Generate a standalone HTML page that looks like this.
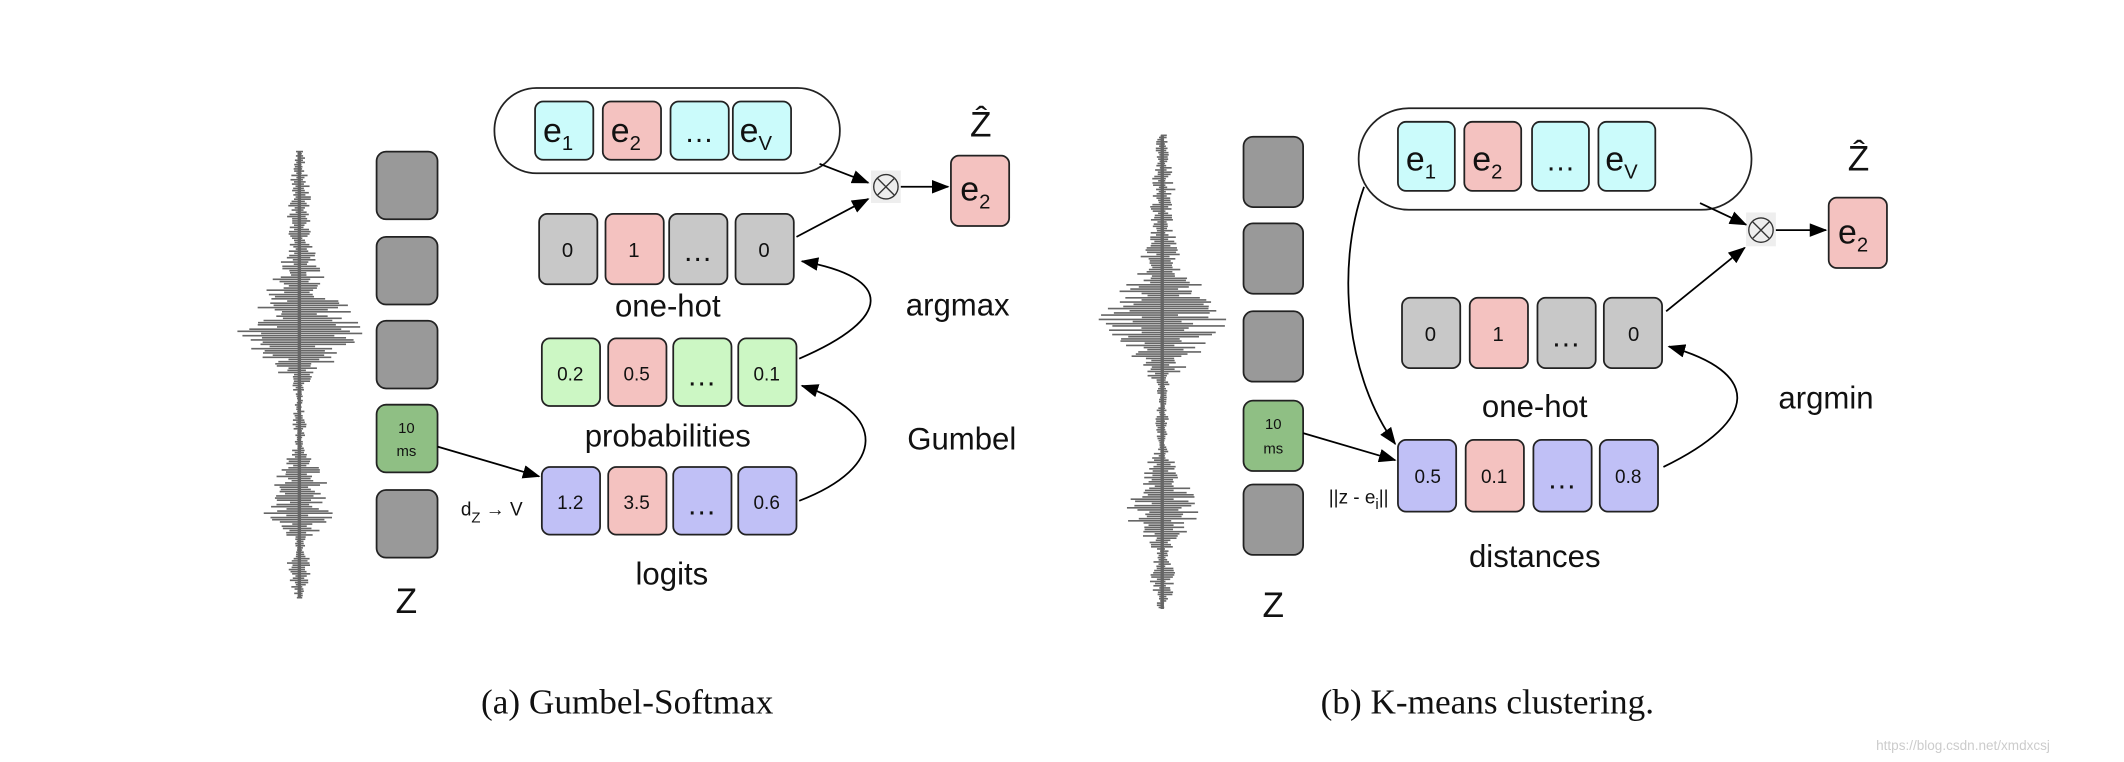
<!DOCTYPE html>
<html><head><meta charset="utf-8"><style>
html,body{margin:0;padding:0;background:#fff;}
svg{display:block;}
text{font-family:"Liberation Sans",sans-serif;fill:#111;}
.serif{font-family:"Liberation Serif",serif;}
</style></head><body>
<svg id="s" width="2124" height="762" viewBox="0 0 1568 563" preserveAspectRatio="none" xmlns="http://www.w3.org/2000/svg">
<defs>
<marker id="ah" markerWidth="13" markerHeight="10" refX="12" refY="5" orient="auto" markerUnits="userSpaceOnUse"><path d="M0,0 L13,5 L0,10 z" fill="#000"/></marker>
</defs>
<g id="wave" stroke="#666" stroke-width="1.2"></g>
<g stroke="#222" stroke-width="1.3">
<rect x="278" y="112" width="45" height="50" rx="7" fill="#999"/>
<rect x="278" y="175" width="45" height="50" rx="7" fill="#999"/>
<rect x="278" y="237" width="45" height="50" rx="7" fill="#999"/>
<rect x="278" y="299" width="45" height="50" rx="7" fill="#8fbf84"/>
<rect x="278" y="362" width="45" height="50" rx="7" fill="#999"/>
<rect x="365" y="65" width="255" height="63" rx="31" fill="#fff"/>
<rect x="395" y="75" width="43" height="43" rx="6" fill="#cbfbfb"/>
<rect x="445" y="75" width="43" height="43" rx="6" fill="#f4c2c0"/>
<rect x="495" y="75" width="43" height="43" rx="6" fill="#cbfbfb"/>
<rect x="541" y="75" width="43" height="43" rx="6" fill="#cbfbfb"/>
<rect x="702" y="115" width="43" height="52" rx="6" fill="#f4c2c0"/>
<rect x="398" y="158" width="43" height="52" rx="6" fill="#c8c8c8"/>
<rect x="447" y="158" width="43" height="52" rx="6" fill="#f4c2c0"/>
<rect x="494" y="158" width="43" height="52" rx="6" fill="#c8c8c8"/>
<rect x="543" y="158" width="43" height="52" rx="6" fill="#c8c8c8"/>
<rect x="400" y="250" width="43" height="50" rx="6" fill="#ccf7c4"/>
<rect x="449" y="250" width="43" height="50" rx="6" fill="#f4c2c0"/>
<rect x="497" y="250" width="43" height="50" rx="6" fill="#ccf7c4"/>
<rect x="545" y="250" width="43" height="50" rx="6" fill="#ccf7c4"/>
<rect x="400" y="345" width="43" height="50" rx="6" fill="#c0c0f6"/>
<rect x="449" y="345" width="43" height="50" rx="6" fill="#f4c2c0"/>
<rect x="497" y="345" width="43" height="50" rx="6" fill="#c0c0f6"/>
<rect x="545" y="345" width="43" height="50" rx="6" fill="#c0c0f6"/>

<rect x="918" y="101" width="44" height="52" rx="7" fill="#999"/>
<rect x="918" y="165" width="44" height="52" rx="7" fill="#999"/>
<rect x="918" y="230" width="44" height="52" rx="7" fill="#999"/>
<rect x="918" y="296" width="44" height="52" rx="7" fill="#8fbf84"/>
<rect x="918" y="358" width="44" height="52" rx="7" fill="#999"/>
<rect x="1003" y="80" width="290" height="75" rx="37" fill="#fff"/>
<rect x="1032" y="90" width="42" height="51" rx="6" fill="#cbfbfb"/>
<rect x="1081" y="90" width="42" height="51" rx="6" fill="#f4c2c0"/>
<rect x="1131" y="90" width="42" height="51" rx="6" fill="#cbfbfb"/>
<rect x="1180" y="90" width="42" height="51" rx="6" fill="#cbfbfb"/>
<rect x="1350" y="146" width="43" height="52" rx="6" fill="#f4c2c0"/>
<rect x="1035" y="220" width="43" height="52" rx="6" fill="#c8c8c8"/>
<rect x="1085" y="220" width="43" height="52" rx="6" fill="#f4c2c0"/>
<rect x="1135" y="220" width="43" height="52" rx="6" fill="#c8c8c8"/>
<rect x="1184" y="220" width="43" height="52" rx="6" fill="#c8c8c8"/>
<rect x="1032" y="325" width="43" height="53" rx="6" fill="#c0c0f6"/>
<rect x="1082" y="325" width="43" height="53" rx="6" fill="#f4c2c0"/>
<rect x="1132" y="325" width="43" height="53" rx="6" fill="#c0c0f6"/>
<rect x="1181" y="325" width="43" height="53" rx="6" fill="#c0c0f6"/>
</g>
<rect x="643" y="126" width="22" height="24" fill="#eee"/>
<circle cx="654" cy="138" r="9" fill="none" stroke="#333" stroke-width="1"/>
<path d="M648,132 L660,144 M660,132 L648,144" stroke="#333" stroke-width="1"/>
<rect x="1289" y="157" width="22" height="25" fill="#eee"/>
<circle cx="1300" cy="170" r="9" fill="none" stroke="#333" stroke-width="1"/>
<path d="M1294,164 L1306,176 M1306,164 L1294,176" stroke="#333" stroke-width="1"/>
<g stroke="#000" stroke-width="1.3" fill="none" marker-end="url(#ah)">
<path d="M605,121 L641,135"/>
<path d="M665,138 L700,138"/>
<path d="M588,175 L641,147"/>
<path d="M590,265 C660,235 660,205 592,193"/>
<path d="M590,370 C655,345 655,305 592,285"/>
<path d="M323,330 L398,352"/>
<path d="M1255,150 L1289,166"/>
<path d="M1311,170 L1348,170"/>
<path d="M1230,230 L1288,183"/>
<path d="M1228,345 C1300,310 1300,275 1232,256"/>
<path d="M1007,138 C985,200 995,280 1030,328"/>
<path d="M962,320 L1030,340"/>
</g>
<g text-anchor="middle">
<text x="300" y="453" font-size="26">Z</text>
<text x="300" y="320" font-size="11">10</text><text x="300" y="337" font-size="11">ms</text>
<text x="412" y="105" font-size="25">e<tspan font-size="15" dy="6">1</tspan></text>
<text x="462" y="105" font-size="25">e<tspan font-size="15" dy="6">2</tspan></text>
<text x="516" y="105" font-size="22">…</text>
<text x="558" y="105" font-size="25">e<tspan font-size="15" dy="6">V</tspan></text>
<text x="720" y="148" font-size="25">e<tspan font-size="15" dy="6">2</tspan></text>
<text x="724" y="101" font-size="26">Ẑ</text>
<text x="419" y="190" font-size="15">0</text><text x="468" y="190" font-size="15">1</text>
<text x="515" y="193" font-size="22">…</text><text x="564" y="190" font-size="15">0</text>
<text x="493" y="234" font-size="23">one-hot</text>
<text x="421" y="281" font-size="14">0.2</text><text x="470" y="281" font-size="14">0.5</text>
<text x="518" y="285" font-size="22">…</text><text x="566" y="281" font-size="14">0.1</text>
<text x="493" y="330" font-size="23">probabilities</text>
<text x="421" y="376" font-size="14">1.2</text><text x="470" y="376" font-size="14">3.5</text>
<text x="518" y="380" font-size="22">…</text><text x="566" y="376" font-size="14">0.6</text>
<text x="496" y="432" font-size="23">logits</text>
<text x="363" y="381" font-size="14">d<tspan font-size="11" dy="5">Z</tspan><tspan dy="-5"> → V</tspan></text>
<text x="707" y="233" font-size="23">argmax</text>
<text x="710" y="332" font-size="23">Gumbel</text>
<text x="463" y="527" font-size="26" class="serif">(a) Gumbel-Softmax</text>

<text x="940" y="456" font-size="26">Z</text>
<text x="940" y="317" font-size="11">10</text><text x="940" y="335" font-size="11">ms</text>
<text x="1049" y="126" font-size="25">e<tspan font-size="15" dy="6">1</tspan></text>
<text x="1098" y="126" font-size="25">e<tspan font-size="15" dy="6">2</tspan></text>
<text x="1152" y="126" font-size="22">…</text>
<text x="1197" y="126" font-size="25">e<tspan font-size="15" dy="6">V</tspan></text>
<text x="1368" y="180" font-size="25">e<tspan font-size="15" dy="6">2</tspan></text>
<text x="1372" y="126" font-size="26">Ẑ</text>
<text x="1056" y="252" font-size="15">0</text><text x="1106" y="252" font-size="15">1</text>
<text x="1156" y="256" font-size="22">…</text><text x="1206" y="252" font-size="15">0</text>
<text x="1133" y="308" font-size="23">one-hot</text>
<text x="1054" y="357" font-size="14">0.5</text><text x="1103" y="357" font-size="14">0.1</text>
<text x="1153" y="361" font-size="22">…</text><text x="1202" y="357" font-size="14">0.8</text>
<text x="1133" y="419" font-size="23">distances</text>
<text x="1003" y="372" font-size="14">||z - e<tspan font-size="11" dy="4">i</tspan><tspan dy="-4">||</tspan></text>
<text x="1348" y="302" font-size="23">argmin</text>
<text x="1098" y="527" font-size="26" class="serif">(b) K-means clustering.</text>
</g>
<text x="1385" y="554" font-size="10" style="fill:#ccc">https://blog.csdn.net/xmdxcsj</text>
</svg>
<script>
(function(){
var g=document.getElementById('wave');var seed=7;
function r(){seed=(seed*9301+49297)%233280;return seed/233280;}
function env(t){
 var pts=[[0,4],[0.05,6],[0.12,10],[0.2,8],[0.27,18],[0.36,42],[0.4,50],[0.46,30],[0.52,6],[0.56,3],[0.6,6],[0.66,3],[0.7,14],[0.8,30],[0.86,12],[0.88,4],[0.92,10],[0.97,8],[1,3]];
 for(var i=1;i<pts.length;i++){if(t<=pts[i][0]){var a=pts[i-1],b=pts[i];var f=(t-a[0])/(b[0]-a[0]);return a[1]+(b[1]-a[1])*f;}}return 3;}
function draw(cx,y0,y1){
 for(var y=y0;y<=y1;y+=1.6){var A=env((y-y0)/(y1-y0));var L=A*(0.25+0.75*r()),R=A*(0.25+0.75*r());
  var l=document.createElementNS('http://www.w3.org/2000/svg','line');
  l.setAttribute('x1',cx-L);l.setAttribute('x2',cx+R);l.setAttribute('y1',y);l.setAttribute('y2',y);g.appendChild(l);}
 var v=document.createElementNS('http://www.w3.org/2000/svg','line');
 v.setAttribute('x1',cx);v.setAttribute('x2',cx);v.setAttribute('y1',y0);v.setAttribute('y2',y1);v.setAttribute('stroke-width','2.5');g.appendChild(v);}
draw(221,112,442);draw(858,100,450);
})();
</script>
</body></html>
